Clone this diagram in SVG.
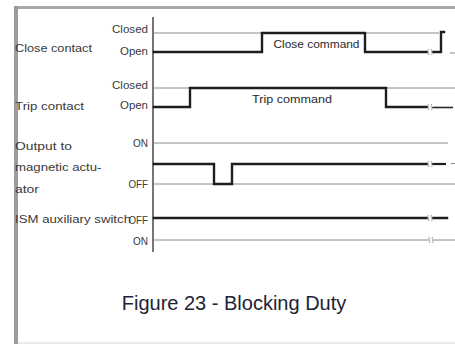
<svg xmlns="http://www.w3.org/2000/svg" width="455" height="344" viewBox="0 0 455 344">
  <style>
    .lbl { font-family: "Liberation Sans", Arial, sans-serif; font-size: 11px; fill: #3a3a3a; }
    .lvl { text-anchor: end; }
    .cmd { text-anchor: middle; fill: #2a2a2a; }
    .thin { fill: none; stroke: #8a8a8a; stroke-width: 1; }
    .thick { fill: none; stroke: #1e1e1e; stroke-width: 2.4; stroke-linejoin: miter; stroke-linecap: square; }
    .brk { fill: none; stroke: #9a9a9a; stroke-width: 0.9; }
    .caption { font-family: "Liberation Sans", Arial, sans-serif; font-size: 20px; fill: #1c2335; text-anchor: middle; }
  </style>
  <defs>
    <!-- break mark on a time line: two small wavy ticks -->
    <g id="break">
      <rect x="-2.2" y="-3" width="4.4" height="6" fill="#fff"/>
      <path class="brk" d="M-1.6,-3 q-1,1.5 0,3 q1,1.5 0,3"/>
      <path class="brk" d="M1.6,-3 q-1,1.5 0,3 q1,1.5 0,3"/>
    </g>
  </defs>

  <!-- page frame -->
  <rect x="0" y="0" width="455" height="344" fill="#fff"/>
  <rect x="14" y="6" width="441" height="3" fill="#a8a8a8"/>
  <rect x="14" y="6" width="4" height="338" fill="#9c9c9c"/>
  <line x1="18" y1="343" x2="455" y2="343" stroke="#d4d4d4" stroke-width="1"/>

  <!-- time axis -->
  <g id="axis">
    <line x1="153" y1="17" x2="153" y2="252" stroke="#2a2a2a" stroke-width="1.3"/>
  </g>

  <!-- Close contact -->
  <g id="close-contact">
    <text class="lbl" x="15" y="51.5" textLength="77" lengthAdjust="spacingAndGlyphs">Close contact</text>
    <text class="lbl lvl" x="148" y="33" textLength="36" lengthAdjust="spacingAndGlyphs">Closed</text>
    <text class="lbl lvl" x="148" y="55" textLength="28" lengthAdjust="spacingAndGlyphs">Open</text>
    <line class="thin" x1="153" y1="33" x2="439" y2="33"/>
    <path class="thick" d="M154,52 H262 V33 H365 V52 H430"/>
    <path class="thick" d="M430,52 H441 V32 H444"/>
    <line class="thin" x1="450" y1="53" x2="455" y2="53"/>
    <use href="#break" x="430" y="52"/>
    <text class="lbl cmd" x="316.5" y="48" textLength="86" lengthAdjust="spacingAndGlyphs">Close command</text>
  </g>

  <!-- Trip contact -->
  <g id="trip-contact">
    <text class="lbl" x="15" y="109.5" textLength="69" lengthAdjust="spacingAndGlyphs">Trip contact</text>
    <text class="lbl lvl" x="148" y="89" textLength="36" lengthAdjust="spacingAndGlyphs">Closed</text>
    <text class="lbl lvl" x="148" y="108.5" textLength="28" lengthAdjust="spacingAndGlyphs">Open</text>
    <line class="thin" x1="153" y1="88" x2="455" y2="88"/>
    <path class="thick" d="M154,107 H190 V88 H386 V107 H430"/>
    <line x1="430" y1="107.5" x2="453" y2="107.5" stroke="#2a2a2a" stroke-width="1.6"/>
    <use href="#break" x="430" y="107"/>
    <text class="lbl cmd" x="292" y="103" textLength="80" lengthAdjust="spacingAndGlyphs">Trip command</text>
  </g>

  <!-- Output to magnetic actuator -->
  <g id="actuator-output">
    <text class="lbl" x="15" y="150" textLength="57" lengthAdjust="spacingAndGlyphs">Output to</text>
    <text class="lbl" x="15" y="170.5" textLength="86.5" lengthAdjust="spacingAndGlyphs">magnetic actu-</text>
    <text class="lbl" x="15" y="192.5" textLength="24" lengthAdjust="spacingAndGlyphs">ator</text>
    <text class="lbl lvl" x="148" y="146.5" textLength="15" lengthAdjust="spacingAndGlyphs">ON</text>
    <text class="lbl lvl" x="148" y="188" textLength="19.5" lengthAdjust="spacingAndGlyphs">OFF</text>
    <line class="thin" x1="153" y1="143" x2="448" y2="143"/>
    <line class="thin" x1="153" y1="184" x2="455" y2="184"/>
    <path class="thick" d="M154,164 H214 V184 H232 V164 H430"/>
    <line x1="430" y1="164" x2="446" y2="164" stroke="#1e1e1e" stroke-width="2.2"/>
    <line class="thin" x1="451" y1="163.5" x2="455" y2="163.5"/>
    <use href="#break" x="430" y="164"/>
  </g>

  <!-- ISM auxiliary switch -->
  <g id="ism-aux-switch">
    <text class="lbl" x="15" y="222.5" textLength="116" lengthAdjust="spacingAndGlyphs">ISM auxiliary switch</text>
    <text class="lbl lvl" x="148" y="223.5" textLength="19.5" lengthAdjust="spacingAndGlyphs">OFF</text>
    <text class="lbl lvl" x="148" y="244.5" textLength="15" lengthAdjust="spacingAndGlyphs">ON</text>
    <path class="thick" d="M154,218 H447"/>
    <line class="thin" x1="153" y1="240" x2="455" y2="240"/>
    <use href="#break" x="430" y="218"/>
    <use href="#break" x="431" y="240"/>
  </g>

  <text class="caption" x="234" y="310">Figure 23 - Blocking Duty</text>
</svg>
